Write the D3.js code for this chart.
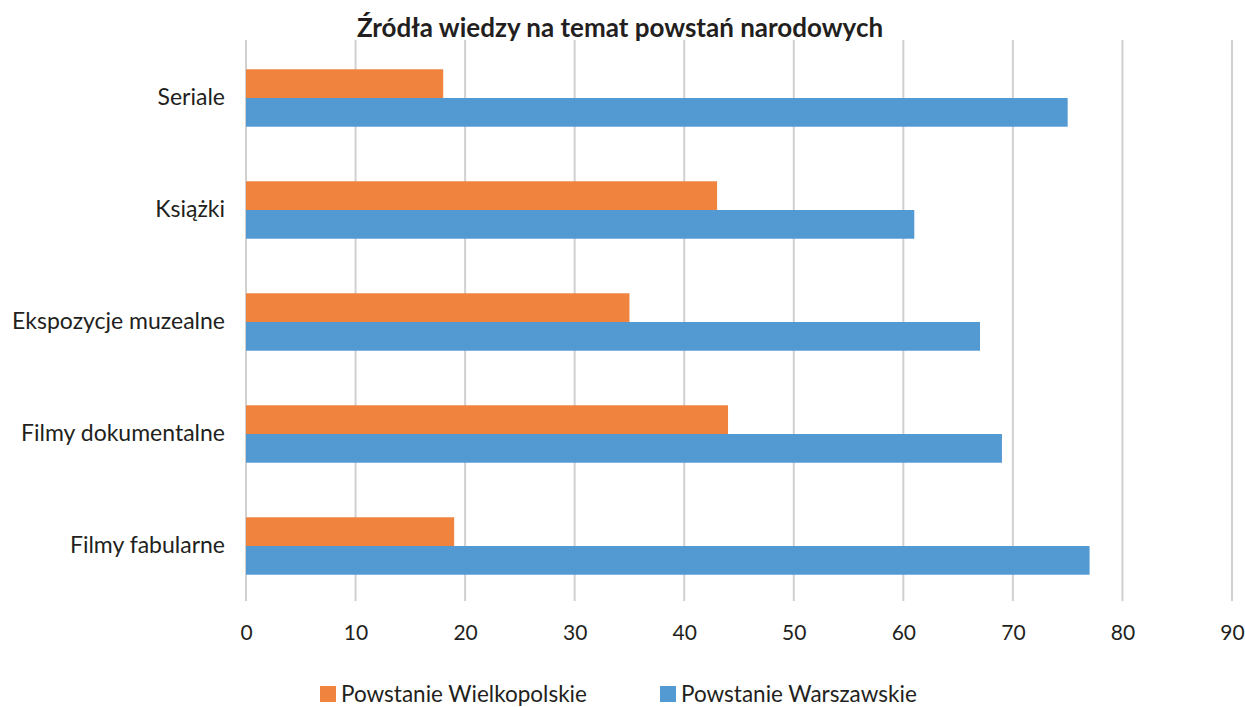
<!DOCTYPE html>
<html><head><meta charset="utf-8">
<script src="https://cdn.jsdelivr.net/npm/d3@7"></script>
<style>body{margin:0;background:#fff}svg{display:block}text{font-family:Lato,"Open Sans",sans-serif;fill:#231f20}</style>
</head><body><svg id="c" width="1245" height="707"></svg>
<script>
const categories = ["Seriale","Książki","Ekspozycje muzealne","Filmy dokumentalne","Filmy fabularne"];
const seriesNames = ["Powstanie Wielkopolskie","Powstanie Warszawskie"];
const wielkopolskie = [18,43,35,44,19];
const warszawskie = [75,61,67,69,77];
const xTicks = [0,10,20,30,40,50,60,70,80,90];
const colors = ["#f0833e","#5399d2"];
const title = "Źródła wiedzy na temat powstań narodowych";

const svg = d3.select("#c");
const x = d3.scaleLinear().domain([0,90]).range([246,1232]);
const y = d3.scaleBand().domain(categories).range([42,602]).paddingInner(0.487).paddingOuter(0.2435);
const ys = d3.scaleBand().domain(seriesNames).range([0,y.bandwidth()]);

// gridlines
svg.append("g").selectAll("line").data(xTicks).join("line")
  .attr("x1",d=>x(d)).attr("x2",d=>x(d)).attr("y1",40).attr("y2",601)
  .attr("stroke","#d0d0d0").attr("stroke-width",2);

const data = [wielkopolskie, warszawskie];
data.forEach((arr,si)=>{
  svg.append("g").selectAll("rect").data(arr).join("rect")
    .attr("x",x(0)).attr("y",(d,i)=>y(categories[i])+ys(seriesNames[si]))
    .attr("width",d=>x(d)-x(0)).attr("height",ys.bandwidth())
    .attr("fill",colors[si]);
});

// x axis labels
const xa = svg.append("g").attr("transform","translate(0,640)")
  .call(d3.axisBottom(x).tickValues(xTicks).tickSize(0).tickPadding(0));
xa.select(".domain").remove();
xa.selectAll("text").attr("font-size",21).attr("fill","#231f20").attr("dy","0").attr("y",0).attr("font-family","Lato,sans-serif");

// y axis labels
const ya = svg.append("g").attr("transform","translate(225,0)")
  .call(d3.axisLeft(y).tickSize(0).tickPadding(0));
ya.select(".domain").remove();
ya.selectAll("text").attr("font-size",23).attr("fill","#231f20").attr("font-family","Lato,sans-serif");

// title
svg.append("text").attr("x",620).attr("y",37).attr("text-anchor","middle")
  .attr("font-size",26).attr("font-weight","bold").text(title);

// legend
const leg = [{x:320,n:seriesNames[0],c:colors[0]},{x:660,n:seriesNames[1],c:colors[1]}];
const lg = svg.append("g").selectAll("g").data(leg).join("g");
lg.append("rect").attr("x",d=>d.x).attr("y",686).attr("width",16).attr("height",16).attr("fill",d=>d.c);
lg.append("text").attr("x",d=>d.x+21).attr("y",702).attr("font-size",22.5).text(d=>d.n);
</script></body></html>
